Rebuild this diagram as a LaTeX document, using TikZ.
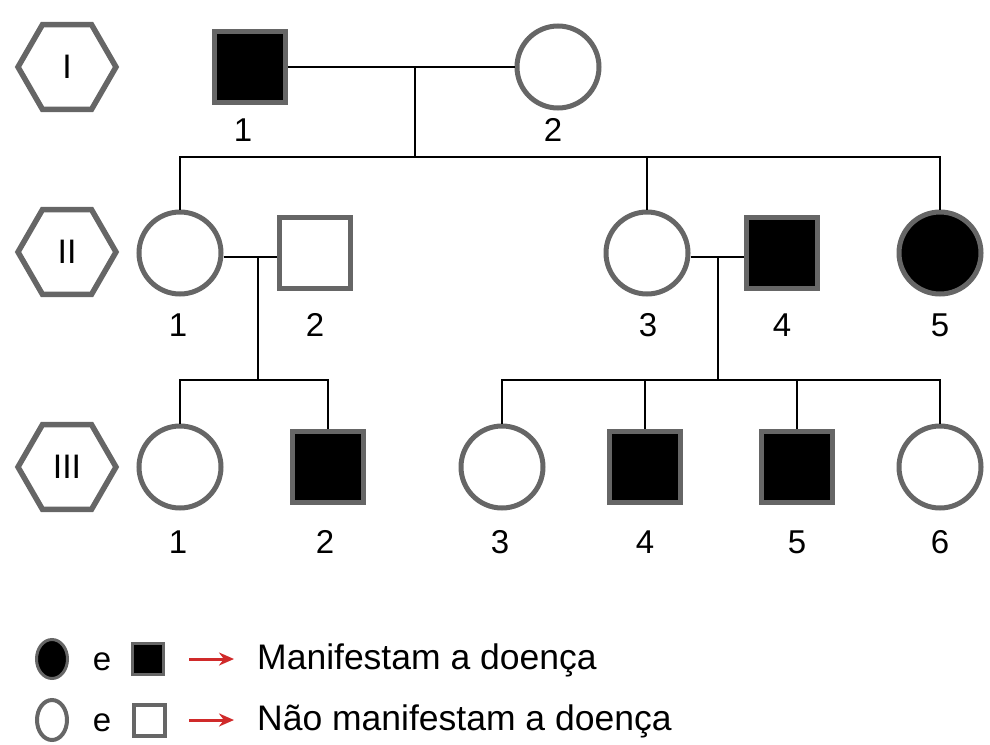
\documentclass[tikz,border=0pt]{standalone}
\usepackage{fontspec}
\setmainfont{Liberation Sans}
\usetikzlibrary{shapes.geometric,arrows.meta}
\definecolor{edgegray}{HTML}{666666}
\definecolor{arrowred}{HTML}{D02A2A}
\begin{document}
\begin{tikzpicture}[x=1pt,y=-1pt,
  fem/.style={circle,draw=edgegray,line width=5pt,minimum size=82pt,inner sep=0pt,fill=white},
  male/.style={rectangle,draw=edgegray,line width=5pt,minimum size=71pt,inner sep=0pt,fill=white},
  aff/.style={fill=black},
  gen/.style={regular polygon,regular polygon sides=6,draw=edgegray,line width=5.5pt,minimum size=98pt,inner sep=0pt,font=\fontsize{34}{34}\selectfont},
  lbl/.style={font=\fontsize{33}{33}\selectfont,inner sep=0pt},
  legtxt/.style={font=\fontsize{35.5}{36}\selectfont,inner sep=0pt},
  link/.style={line width=2pt,black},
  legarrow/.style={arrowred,line width=3pt,-{Stealth[length=15pt,width=13pt]}}]
\useasboundingbox (0,0) rectangle (990,744);

% generation markers
\node[gen] (gI) at (67,67) {I};
\node[gen] (gII) at (67,252) {II};
\node[gen] (gIII) at (67,467) {III};

% generation I
\node[male,aff] (I1) at (250,67) {};
\node[fem] (I2) at (558,67) {};
\node[lbl] (lI1) at (243,130) {1};
\node[lbl] (lI2) at (553,130) {2};

% generation II
\node[fem] (II1) at (180,253) {};
\node[male] (II2) at (315,253) {};
\node[fem] (II3) at (647,253) {};
\node[male,aff] (II4) at (782,253) {};
\node[fem,aff] (II5) at (940,253) {};
\node[lbl] (lII1) at (178,325) {1};
\node[lbl] (lII2) at (315,325) {2};
\node[lbl] (lII3) at (648,325) {3};
\node[lbl] (lII4) at (782,325) {4};
\node[lbl] (lII5) at (940,325) {5};

% generation III
\node[fem] (III1) at (180,467) {};
\node[male,aff] (III2) at (328,467) {};
\node[fem] (III3) at (502,467) {};
\node[male,aff] (III4) at (645,467) {};
\node[male,aff] (III5) at (797,467) {};
\node[fem] (III6) at (940,467) {};
\node[lbl] (lIII1) at (178,542) {1};
\node[lbl] (lIII2) at (325,542) {2};
\node[lbl] (lIII3) at (500,542) {3};
\node[lbl] (lIII4) at (645,542) {4};
\node[lbl] (lIII5) at (797,542) {5};
\node[lbl] (lIII6) at (940,542) {6};

% connectors
\coordinate (m1) at (415,67);
\coordinate (s1) at (415,157);
\draw[link] (I1) -- (I2);
\draw[link] (m1) -- (s1);
\draw[link] (II1.north) -- (II1.north |- s1) -- (II5.north |- s1) -- (II5.north);
\draw[link] (II3.north) -- (II3.north |- s1);

\coordinate (m2) at (258,257);
\coordinate (s2) at (258,380);
\draw[link] (II1.east |- m2) -- (II2.west |- m2);
\draw[link] (m2) -- (s2);
\draw[link] (III1.north) -- (III1.north |- s2) -- (III2.north |- s2) -- (III2.north);

\coordinate (m3) at (718,257);
\coordinate (s3) at (718,380);
\draw[link] (II3.east |- m3) -- (II4.west |- m3);
\draw[link] (m3) -- (s3);
\draw[link] (III3.north) -- (III3.north |- s3) -- (III6.north |- s3) -- (III6.north);
\draw[link] (III4.north) -- (III4.north |- s3);
\draw[link] (III5.north) -- (III5.north |- s3);

% legend
\node[ellipse,draw=edgegray,line width=3pt,fill=black,minimum width=31pt,minimum height=39pt,inner sep=0pt] (legF1) at (52,659) {};
\node[lbl] (legE1) at (102,662) {e};
\node[rectangle,draw=edgegray,line width=3pt,fill=black,minimum size=31pt,inner sep=0pt] (legM1) at (148,659) {};
\coordinate (la1) at (189,659);
\coordinate (lb1) at (234,659);
\draw[legarrow] (la1) -- (lb1);
\node[legtxt,anchor=west] (legT1) at (257,660) {Manifestam a doença};

\node[ellipse,draw=edgegray,line width=4pt,fill=white,minimum width=30pt,minimum height=40pt,inner sep=0pt] (legF2) at (52,720) {};
\node[lbl] (legE2) at (102,723) {e};
\node[rectangle,draw=edgegray,line width=4pt,fill=white,minimum size=31pt,inner sep=0pt] (legM2) at (149,720) {};
\coordinate (la2) at (189,720);
\coordinate (lb2) at (234,720);
\draw[legarrow] (la2) -- (lb2);
\node[legtxt,anchor=west] (legT2) at (257,721) {Não manifestam a doença};
\end{tikzpicture}
\end{document}
